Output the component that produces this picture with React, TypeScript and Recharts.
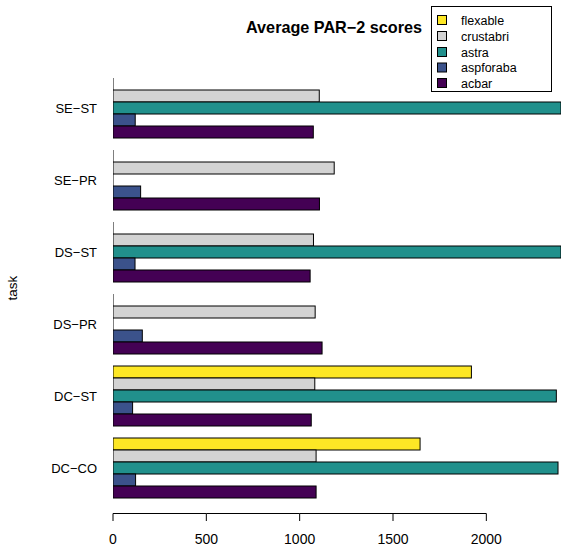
import React from 'react';
import { BarChart, Bar, XAxis, YAxis } from 'recharts';

const TASKS = ['SE\u2212ST', 'SE\u2212PR', 'DS\u2212ST', 'DS\u2212PR', 'DC\u2212ST', 'DC\u2212CO'];

const SERIES = ['flexable', 'crustabri', 'astra', 'aspforaba', 'acbar'];
const COLORS = ['#FDE725', '#D3D3D3', '#21908C', '#3B528B', '#440154'];

const flexable = [0, 0, 0, 0, 1920, 1645];
const crustabri = [1105, 1185, 1074, 1083, 1081, 1088];
const astra = [2400, 0, 2400, 0, 2375, 2384];
const aspforaba = [119, 148, 118, 157, 105, 121];
const acbar = [1073, 1106, 1056, 1120, 1062, 1088];

const X_TICKS = [0, 500, 1000, 1500, 2000];
const X_MAX = 2400;

const W = 562;
const H = 547;
const PLOT_LEFT = 113;
const PLOT_RIGHT = 1;
const PLOT_W = W - PLOT_LEFT - PLOT_RIGHT;

const data = TASKS.map((task, i) => ({
  task,
  flexable: flexable[i],
  crustabri: crustabri[i],
  astra: astra[i],
  aspforaba: aspforaba[i],
  acbar: acbar[i],
}));

const FONT = '"Liberation Sans", Arial, Helvetica, sans-serif';

// R draws zero-width bars as a vertical border line
const BarShape = (props: any) => {
  const { x, y, width, height, fill } = props;
  if (!width) {
    return <line x1={x} x2={x} y1={y} y2={y + height} stroke="#000" strokeWidth={1} />;
  }
  return <rect x={x} y={y} width={width} height={height} fill={fill} stroke="#000" strokeWidth={1} />;
};

const XTick = (props: any) => {
  const { x, y, payload, index } = props;
  const prev = index > 0 ? X_TICKS[index - 1] : payload.value;
  const dx = ((payload.value - prev) * PLOT_W) / X_MAX;
  return (
    <g>
      <line x1={x} x2={x} y1={y + 9.5} y2={y + 17} stroke="#000" />
      {index > 0 && <line x1={x - dx} x2={x} y1={y + 9.5} y2={y + 9.5} stroke="#000" />}
      <text x={x} y={y + 40} textAnchor="middle" fontSize={14} fontFamily={FONT} fill="#000">
        {payload.value}
      </text>
    </g>
  );
};

const YTick = (props: any) => {
  const { x, y, payload } = props;
  return (
    <text x={x - 16} y={y + 5} textAnchor="end" fontSize={13} fontFamily={FONT} fill="#000">
      {payload.value}
    </text>
  );
};

const rowY = [20, 36, 52, 67.5, 83];

export default function App() {
  return (
    <div style={{ position: 'absolute', left: 0, top: 0, width: W, height: H, background: '#fff' }}>
      <BarChart
        width={W}
        height={H}
        data={data}
        layout="vertical"
        margin={{ top: 72, right: PLOT_RIGHT, bottom: 0, left: 0 }}
        barGap={0}
        barCategoryGap={6}
      >
        <XAxis
          type="number"
          domain={[0, X_MAX]}
          ticks={X_TICKS}
          allowDataOverflow
          axisLine={false}
          tickLine={false}
          tickSize={0}
          tickMargin={0}
          height={43}
          tick={<XTick />}
          interval={0}
        />
        <YAxis
          type="category"
          dataKey="task"
          width={PLOT_LEFT}
          axisLine={false}
          tickLine={false}
          tickSize={0}
          tickMargin={0}
          tick={<YTick />}
          interval={0}
        />
        {SERIES.map((s, i) => (
          <Bar
            key={s}
            dataKey={s}
            fill={COLORS[i]}
            barSize={12}
            shape={<BarShape />}
            isAnimationActive={false}
          />
        ))}
      </BarChart>
      <svg
        width={W}
        height={H}
        style={{ position: 'absolute', left: 0, top: 0, pointerEvents: 'none' }}
      >
        <rect x={431.5} y={6.5} width={120} height={85} fill="#fff" stroke="#000" />
        <text x={334} y={33} textAnchor="middle" fontSize={16.2} fontWeight="bold" fontFamily={FONT} fill="#000">
          Average PAR{'\u2212'}2 scores
        </text>
        <text
          x={17}
          y={288}
          textAnchor="middle"
          fontSize={13.5}
          fontFamily={FONT}
          fill="#000"
          transform="rotate(-90 17 288)"
        >
          task
        </text>
        {SERIES.map((s, i) => (
          <g key={s}>
            <rect x={437.5} y={rowY[i] - 4.5} width={9} height={9} fill={COLORS[i]} stroke="#000" />
            <text x={461} y={rowY[i] + 4.5} fontSize={12.5} fontFamily={FONT} fill="#000">
              {s}
            </text>
          </g>
        ))}
      </svg>
    </div>
  );
}
